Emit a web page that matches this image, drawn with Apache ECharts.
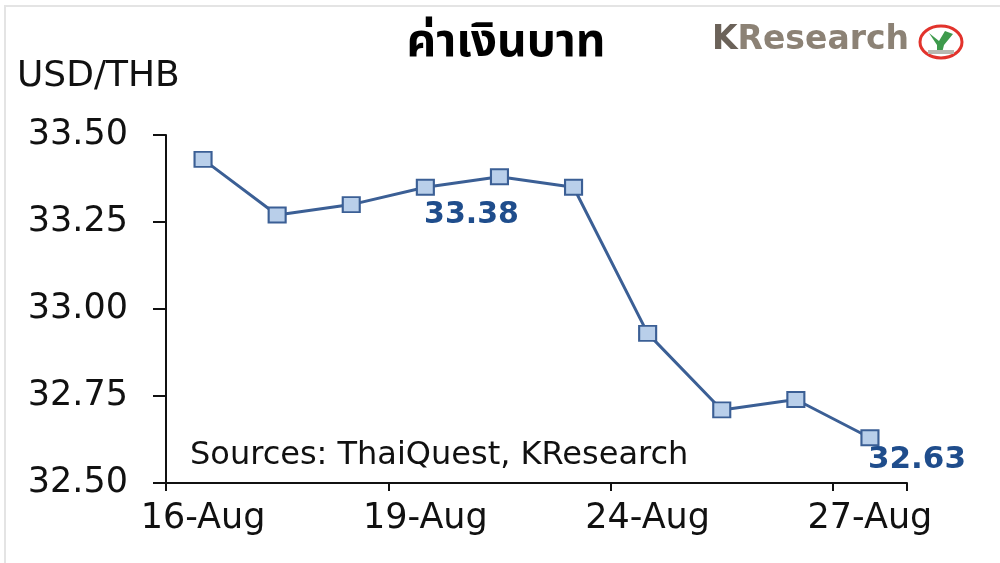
<!DOCTYPE html>
<html>
<head>
<meta charset="utf-8">
<style>
  html, body { margin: 0; padding: 0; background: #ffffff; }
  #chart { width: 1000px; height: 563px; }
</style>
<script src="https://cdn.jsdelivr.net/npm/echarts@6/dist/echarts.min.js"></script>
</head>
<body>
<div id="chart"></div>
<script>
const categories = ['16-Aug', '17-Aug', '18-Aug', '19-Aug', '20-Aug', '23-Aug', '24-Aug', '25-Aug', '26-Aug', '27-Aug'];
const rates = [33.43, 33.27, 33.30, 33.35, 33.38, 33.35, 32.93, 32.71, 32.74, 32.63];
const labelledPoints = [4, 9];
const yTicks = { min: 32.5, max: 33.5, step: 0.25 };
const titleText = 'ค่าเงินบาท';
const unitText = 'USD/THB';
const sourceText = 'Sources: ThaiQuest, KResearch';

const labelOffsets = { 4: [-28, 38], 9: [47, 22] };
const labelSizes = { 4: 30, 9: 31 };
const seriesData = rates.map((v, i) => labelledPoints.includes(i)
  ? { value: v, label: { show: true, position: 'inside', offset: labelOffsets[i], fontSize: labelSizes[i] } }
  : v);

const chart = echarts.init(document.getElementById('chart'), null, { renderer: 'canvas' });
chart.setOption({
  backgroundColor: '#ffffff',
  animation: false,
  grid: { left: 166, right: 93, top: 135, bottom: 80, containLabel: false },
  xAxis: {
    type: 'category',
    data: categories,
    boundaryGap: true,
    axisLine: { lineStyle: { color: '#111', width: 2 } },
    axisTick: { show: true, interval: 2, length: 8, lineStyle: { color: '#111', width: 2 } },
    axisLabel: { interval: 2, margin: 18, color: '#111', fontSize: 35, fontFamily: 'DejaVu Sans' },
    splitLine: { show: false }
  },
  yAxis: {
    type: 'value',
    min: yTicks.min, max: yTicks.max, interval: yTicks.step,
    axisLine: { show: true, lineStyle: { color: '#111', width: 2 } },
    axisTick: { show: true, inside: false, length: 13, lineStyle: { color: '#111', width: 2 } },
    axisLabel: { margin: 38, color: '#111', fontSize: 35, fontFamily: 'DejaVu Sans',
      formatter: v => v.toFixed(2) },
    splitLine: { show: false }
  },
  graphic: [
    { type: 'rect', shape: { x: 5, y: 6, width: 1000, height: 600 }, style: { fill: 'none', stroke: '#e4e4e4', lineWidth: 2 }, z: -1 },
    { type: 'text', x: 506, y: 70, style: { text: titleText, fontSize: 46, fontWeight: 'bold', fill: '#000', align: 'center', verticalAlign: 'bottom', fontFamily: '"Noto Sans Thai", "Loma", "Tlwg Typo", "Garuda", "Noto Sans", sans-serif' } },
    { type: 'text', left: 17, top: 59, style: { text: unitText, fontSize: 36, fill: '#111', fontFamily: 'DejaVu Sans' } },
    { type: 'text', left: 190, top: 440, style: { text: sourceText, fontSize: 32, fill: '#111', fontFamily: 'DejaVu Sans' } },
    { type: 'text', left: 712, top: 24, style: { text: '{k|K}{r|Research}', rich: {
        k: { fontSize: 33, fontWeight: 'bold', fill: '#6b6259', fontFamily: 'DejaVu Sans' },
        r: { fontSize: 33, fontWeight: 'bold', fill: '#8c8275', fontFamily: 'DejaVu Sans' } } } },
    { type: 'ellipse', shape: { cx: 941, cy: 42, rx: 21, ry: 16 }, style: { fill: '#ffffff', stroke: '#e2332c', lineWidth: 3 } },
    { type: 'polygon', shape: { points: [[929, 33], [939, 41], [945, 31], [953, 34], [944, 45], [942, 53], [937, 53], [937, 45]] }, style: { fill: '#3e9a4c' } },
    { type: 'rect', shape: { x: 928, y: 50, width: 26, height: 4 }, style: { fill: '#b8b8b0' } }
  ],
  series: [{
    type: 'line',
    data: seriesData,
    symbol: 'rect',
    symbolSize: [17, 15],
    lineStyle: { color: '#3b5f95', width: 3 },
    itemStyle: { color: '#b9cfea', borderColor: '#3b5f95', borderWidth: 2 },
    label: { show: false, color: '#1f4d8c', fontSize: 30, fontWeight: 'bold', fontFamily: 'DejaVu Sans',
      formatter: p => p.value.toFixed(2) },
    emphasis: { disabled: true }
  }]
});
</script>
</body>
</html>
